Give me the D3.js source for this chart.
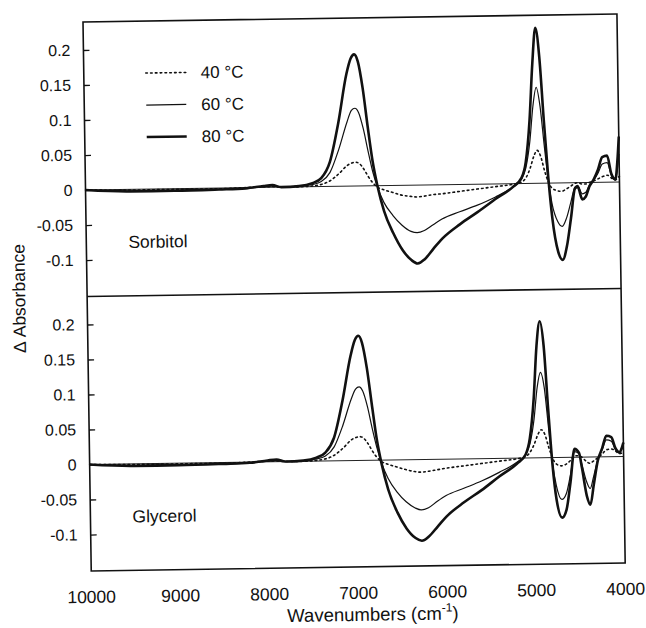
<!DOCTYPE html>
<html>
<head>
<meta charset="utf-8">
<script src="https://cdn.jsdelivr.net/npm/d3@7"></script>
<style>
  html, body { margin: 0; padding: 0; background: #fff; }
  svg { display: block; }
  text { font-family: "Liberation Sans", Arial, sans-serif; fill: #111; }
</style>
</head>
<body>
<svg id="chart" width="646" height="628"></svg>
<script>
// Wavenumber grid (cm-1), shared by every spectrum
const wavenumbers = [10000, 9500, 9000, 8500, 8200, 8000, 7900, 7800, 7600, 7450, 7350, 7250, 7150, 7050, 7000, 6960, 6920, 6870, 6820, 6770, 6720, 6650, 6550, 6450, 6350, 6280, 6200, 6100, 6000, 5800, 5600, 5400, 5200, 5100, 5050, 5000, 4960, 4920,
  4880, 4840, 4800, 4760, 4700, 4650, 4600, 4550, 4500, 4470, 4420, 4380, 4340, 4290, 4240, 4190, 4135, 4090, 4045, 4020, 4000];

// Difference spectra, sorbitol
const sorbitol40 = [0.000, -0.001, -0.001, -0.001, 0.000, 0.001, 0.001, 0.000, 0.000, 0.001, 0.003, 0.008, 0.018, 0.030, 0.033, 0.034, 0.032, 0.024, 0.013, 0.004, -0.002, -0.006, -0.010, -0.014, -0.016, -0.017, -0.016, -0.014, -0.013, -0.010, -0.007, -0.004, -0.001, 0.002, 0.008, 0.022, 0.038, 0.047,
  0.038, 0.018, 0.002, -0.007, -0.011, -0.012, -0.009, -0.005, -0.001, 0.000, -0.002, -0.002, 0.000, 0.002, 0.005, 0.008, 0.010, 0.006, 0.003, 0.006, 0.008];
const sorbitol60 = [0.000, -0.002, -0.002, -0.002, -0.001, 0.001, 0.002, 0.000, 0.001, 0.003, 0.007, 0.020, 0.052, 0.092, 0.108, 0.111, 0.105, 0.082, 0.050, 0.020, -0.002, -0.024, -0.043, -0.057, -0.066, -0.068, -0.065, -0.057, -0.049, -0.039, -0.030, -0.019, -0.005, 0.006, 0.022, 0.060, 0.110, 0.137,
  0.110, 0.055, 0.005, -0.030, -0.055, -0.062, -0.050, -0.028, -0.006, -0.004, -0.016, -0.014, -0.004, 0.003, 0.013, 0.026, 0.028, 0.010, 0.003, 0.020, 0.040];
const sorbitol80 = [0.000, -0.003, -0.003, -0.002, -0.001, 0.002, 0.003, 0.000, 0.001, 0.005, 0.012, 0.035, 0.090, 0.160, 0.182, 0.188, 0.178, 0.140, 0.085, 0.035, 0.000, -0.036, -0.068, -0.092, -0.107, -0.112, -0.106, -0.091, -0.077, -0.057, -0.040, -0.022, -0.005, 0.008, 0.030, 0.090, 0.170, 0.222,
  0.180, 0.090, 0.010, -0.050, -0.098, -0.110, -0.090, -0.050, -0.008, -0.006, -0.024, -0.020, -0.006, 0.004, 0.018, 0.036, 0.038, 0.012, 0.004, 0.030, 0.065];

// Difference spectra, glycerol
const glycerol40 = [0.000, -0.001, -0.001, -0.001, 0.000, 0.001, 0.001, 0.000, 0.000, 0.001, 0.003, 0.008, 0.018, 0.030, 0.033, 0.034, 0.032, 0.024, 0.013, 0.004, -0.002, -0.006, -0.010, -0.014, -0.017, -0.018, -0.017, -0.015, -0.013, -0.010, -0.007, -0.004, -0.001, 0.002, 0.008, 0.020, 0.033, 0.040,
  0.033, 0.015, 0.000, -0.009, -0.012, -0.010, -0.005, 0.002, 0.002, 0.000, -0.006, -0.009, -0.006, -0.001, 0.004, 0.010, 0.011, 0.008, 0.004, 0.005, 0.006];
const glycerol60 = [0.000, -0.002, -0.002, -0.002, -0.001, 0.001, 0.002, 0.000, 0.001, 0.003, 0.007, 0.020, 0.050, 0.088, 0.102, 0.105, 0.099, 0.077, 0.046, 0.018, -0.004, -0.026, -0.046, -0.060, -0.069, -0.072, -0.069, -0.060, -0.052, -0.042, -0.032, -0.020, -0.006, 0.005, 0.020, 0.055, 0.100, 0.122,
  0.100, 0.045, -0.008, -0.040, -0.060, -0.052, -0.025, 0.008, 0.005, -0.010, -0.035, -0.045, -0.028, -0.004, 0.010, 0.024, 0.022, 0.010, 0.005, 0.010, 0.016];
const glycerol80 = [0.000, -0.003, -0.003, -0.002, -0.001, 0.002, 0.003, 0.000, 0.001, 0.005, 0.012, 0.033, 0.085, 0.150, 0.172, 0.178, 0.168, 0.132, 0.080, 0.030, -0.005, -0.042, -0.075, -0.098, -0.112, -0.116, -0.110, -0.096, -0.082, -0.062, -0.045, -0.026, -0.008, 0.005, 0.028, 0.085, 0.160, 0.195,
  0.160, 0.070, -0.010, -0.060, -0.086, -0.075, -0.035, 0.012, 0.006, -0.015, -0.055, -0.068, -0.040, -0.005, 0.012, 0.030, 0.028, 0.012, 0.006, 0.012, 0.020];

const seriesLabels = ["40 \u00B0C", "60 \u00B0C", "80 \u00B0C"];
const panelNames = ["Sorbitol", "Glycerol"];
const yTickValues = [-0.1, -0.05, 0, 0.05, 0.1, 0.15, 0.2];
const yTickLabels = ["-0.1", "-0.05", "0", "0.05", "0.1", "0.15", "0.2"];
const xTickValues = [10000, 9000, 8000, 7000, 6000, 5000, 4000];

const panels = [
  { name: panelNames[0], series: [sorbitol40, sorbitol60, sorbitol80] },
  { name: panelNames[1], series: [glycerol40, glycerol60, glycerol80] }
];

// Line styles for 40, 60, 80 °C
const lineStyles = [
  { width: 1.6, dash: "1.6,3.2" },
  { width: 1.2, dash: null },
  { width: 2.6, dash: null }
];

const svg = d3.select("#chart");
const marginLeft = 83, marginTop = 22, plotW = 534, plotH = 549;
const panelH = plotH / 2;

// The whole figure sits slightly tilted on the page
const frame = svg.append("g")
  .attr("transform", `translate(${marginLeft},${marginTop}) rotate(-0.86)`);

const x = d3.scaleLinear().domain([10000, 4000]).range([0, plotW]);
const y = d3.scaleLinear().domain([-0.152, 0.24]).range([panelH, 0]);

panels.forEach((p, i) => {
  const g = frame.append("g").attr("transform", `translate(0,${i * panelH})`);

  // zero line
  g.append("line")
    .attr("x1", 0).attr("x2", plotW)
    .attr("y1", y(0)).attr("y2", y(0))
    .attr("stroke", "#222").attr("stroke-width", 1);

  // y axis with inward ticks
  const yAxis = d3.axisRight(y)
    .tickValues(yTickValues)
    .tickSize(6)
    .tickFormat(() => "");
  const ya = g.append("g").call(yAxis);
  ya.select(".domain").remove();
  ya.selectAll(".tick line").attr("stroke", "#111").attr("stroke-width", 1.3);

  g.selectAll("text.ylab")
    .data(yTickValues)
    .join("text")
    .attr("class", "ylab")
    .attr("x", -13)
    .attr("y", d => y(d))
    .attr("dy", "0.35em")
    .attr("text-anchor", "end")
    .attr("font-size", 16)
    .text((d, k) => yTickLabels[k]);

  const line = d3.line()
    .x((d, k) => x(wavenumbers[k]))
    .y(d => y(d))
    .curve(d3.curveMonotoneX);

  p.series.forEach((vals, s) => {
    g.append("path")
      .datum(vals)
      .attr("d", line)
      .attr("fill", "none")
      .attr("stroke", "#111")
      .attr("stroke-width", lineStyles[s].width)
      .attr("stroke-linejoin", "round")
      .attr("stroke-linecap", s === 0 ? "round" : "butt")
      .attr("stroke-dasharray", lineStyles[s].dash);
  });

  g.append("text")
    .attr("x", 42).attr("y", y(-0.075))
    .attr("dy", "0.35em")
    .attr("font-size", 17.5)
    .text(p.name);
});

// frame border and panel separator
frame.append("rect")
  .attr("x", 0).attr("y", 0).attr("width", plotW).attr("height", plotH)
  .attr("fill", "none").attr("stroke", "#111").attr("stroke-width", 1.6);
frame.append("line")
  .attr("x1", 0).attr("x2", plotW).attr("y1", panelH).attr("y2", panelH)
  .attr("stroke", "#111").attr("stroke-width", 1.6);

// legend
const legend = frame.append("g").attr("transform", "translate(62,52)");
seriesLabels.forEach((lab, s) => {
  const row = legend.append("g").attr("transform", `translate(0,${s * 32})`);
  row.append("line")
    .attr("x1", 0).attr("x2", 40).attr("y1", 0).attr("y2", 0)
    .attr("stroke", "#111")
    .attr("stroke-width", lineStyles[s].width)
    .attr("stroke-linecap", s === 0 ? "round" : "butt")
    .attr("stroke-dasharray", lineStyles[s].dash);
  row.append("text")
    .attr("x", 55).attr("y", 0).attr("dy", "0.35em")
    .attr("font-size", 17)
    .text(lab);
});

// x tick labels
frame.selectAll("text.xlab")
  .data(xTickValues)
  .join("text")
  .attr("class", "xlab")
  .attr("x", d => x(d))
  .attr("y", plotH + 32)
  .attr("text-anchor", "middle")
  .attr("font-size", 17.5)
  .text(d => d);

// axis titles
const xt = frame.append("text")
  .attr("x", plotW / 2 + 14)
  .attr("y", plotH + 54)
  .attr("text-anchor", "middle")
  .attr("font-size", 18.5);
xt.append("tspan").text("Wavenumbers (cm");
xt.append("tspan").attr("dy", -8).attr("font-size", 12).text("-1");
xt.append("tspan").attr("dy", 8).text(")");

frame.append("text")
  .attr("transform", `translate(-62,${plotH / 2 + 1}) rotate(-90)`)
  .attr("text-anchor", "middle")
  .attr("font-size", 17.5)
  .text("\u0394 Absorbance");
</script>
</body>
</html>
